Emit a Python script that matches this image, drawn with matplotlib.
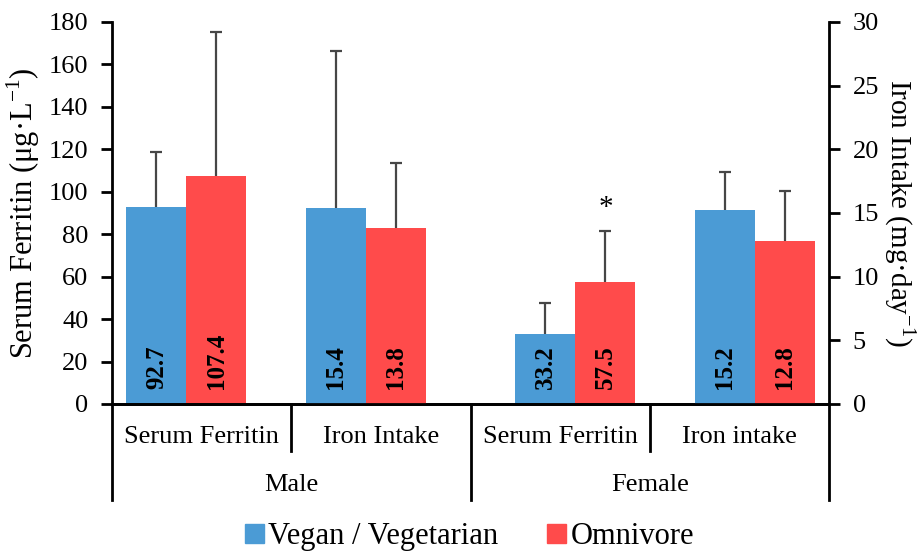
import numpy as np
import matplotlib
matplotlib.use("Agg")
import matplotlib.pyplot as plt
from matplotlib.patches import Patch

plt.rcParams['font.family'] = ['Liberation Serif', 'DejaVu Serif']
plt.rcParams['mathtext.fontset'] = 'custom'
plt.rcParams['mathtext.rm'] = 'Liberation Serif'

# data
sub_labels = ["Serum Ferritin", "Iron Intake", "Serum Ferritin", "Iron intake"]
sex_labels = ["Male", "Female"]
series = ["Vegan / Vegetarian", "Omnivore"]
# serum ferritin in ug/L (left axis), iron intake in mg/day (right axis)
vegan_vals = [92.7, 15.4, 33.2, 15.2]
omni_vals = [107.4, 13.8, 57.5, 12.8]
vegan_err = [26.1, 12.3, 14.5, 3.0]
omni_err = [67.9, 5.1, 24.0, 3.9]
on_right = [False, True, False, True]
signif = [False, False, True, False]   # star over omnivore bar

blue = '#4B9BD5'
red = '#FF4B4B'
errc = '#464646'

fig = plt.figure(figsize=(9.19, 5.54), dpi=100)
ax = fig.add_axes([0.1219, 0.2708, 0.7802, 0.6895])
ax2 = ax.twinx()

w = 0.335
shift = [-0.085, -0.085, 0.085, 0.085]   # excel offsets the pairs a bit
for i in range(4):
    a = ax2 if on_right[i] else ax
    scale = 30 if on_right[i] else 180
    x0 = i + shift[i]
    pairs = [(x0 - w / 2, vegan_vals[i], vegan_err[i], blue),
             (x0 + w / 2, omni_vals[i], omni_err[i], red)]
    for xx, v, e, c in pairs:
        a.bar(xx, v, w, color=c, zorder=2)
        eb = a.errorbar([xx], [v], yerr=[[0], [e]], fmt='none', ecolor=errc,
                        elinewidth=1.6, capsize=4, capthick=1.6, zorder=1)
        eb[1][0].set_visible(False)  # only the upper cap
        a.text(xx, 0.04 * scale, f"{v:.1f}", rotation=90, ha='center', va='bottom',
               fontsize=18, fontweight='bold', color='black', zorder=3)
    if signif[i]:
        a.text(x0 + w / 2, omni_vals[i] + omni_err[i] + 0.025 * scale, "*",
               ha='center', va='bottom', fontsize=21)

ax.set_ylim(0, 180)
ax.set_yticks(np.arange(0, 181, 20))
ax2.set_ylim(0, 30)
ax2.set_yticks(np.arange(0, 31, 5))
ax.set_xlim(-0.5, 3.5)
ax.set_xticks([])

for a in (ax, ax2):
    a.spines['top'].set_visible(False)
    for s in ('left', 'right', 'bottom'):
        a.spines[s].set_linewidth(2)
    a.tick_params(axis='y', labelsize=19, width=2, length=8, direction='out', pad=9)
ax.spines['right'].set_visible(False)
ax2.spines['left'].set_visible(False)

ax.set_ylabel("Serum Ferritin (μg·L$^{\\mathregular{-1}}$)", fontsize=22, labelpad=5)
ax2.set_ylabel("Iron Intake (mg·day$^{\\mathregular{-1}}$)", fontsize=21, rotation=-90,
               labelpad=28)

# hierarchical category axis
tr = ax.get_xaxis_transform()
for xs, depth in [(-0.5, -0.251), (0.5, -0.123), (1.5, -0.251), (2.5, -0.123), (3.5, -0.251)]:
    ax.plot([xs, xs], [0, depth], color='black', lw=2, transform=tr, clip_on=False)
for i, lab in enumerate(sub_labels):
    ax.text(i, -0.086, lab, transform=tr, ha='center', va='center', fontsize=19)
for j, lab in enumerate(sex_labels):
    ax.text(2 * j + 0.5, -0.212, lab, transform=tr, ha='center', va='center', fontsize=19)

handles = [Patch(color=blue), Patch(color=red)]
fig.legend(handles, series, loc='lower center', ncol=2, frameon=False, fontsize=22,
           handlelength=0.6, handleheight=0.6, handletextpad=0.15, columnspacing=1.6,
           bbox_to_anchor=(0.511, -0.045))

fig.savefig("out.png", dpi=100)
